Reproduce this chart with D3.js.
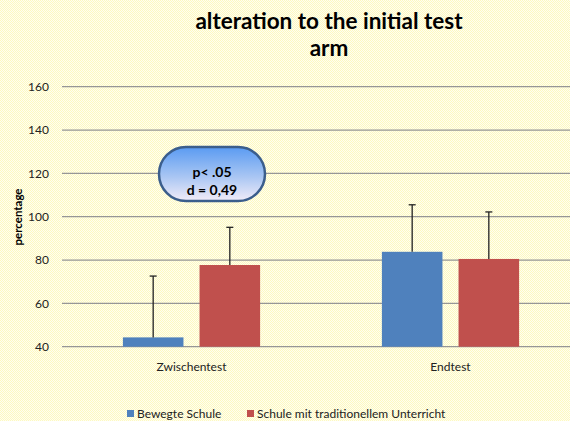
<!DOCTYPE html>
<html>
<head>
<meta charset="utf-8">
<script src="https://cdn.jsdelivr.net/npm/d3@7"></script>
<style>
  body { margin: 0; background: #fff; }
  svg { display: block; font-family: Lato, "Open Sans", sans-serif; }
</style>
</head>
<body>
<svg id="chart" width="570" height="421"></svg>
<script>
// values
var categories = ["Zwischentest", "Endtest"];
var series = ["Bewegte Schule", "Schule mit traditionellem Unterricht"];
var colors = ["#4f81bd", "#c0504d"];
var bewegte = [44.3, 83.8];
var traditionell = [77.7, 80.5];
var bewegteErr = [28.3, 21.7];      // upper error only
var traditionellErr = [17.4, 21.7];
var yTicks = [40, 60, 80, 100, 120, 140, 160];

var svg = d3.select("#chart"),
    width = +svg.attr("width"),
    height = +svg.attr("height");

// pale yellow dotted background
var defs = svg.append("defs");
var pat = defs.append("pattern")
    .attr("id", "dots")
    .attr("width", 2).attr("height", 2)
    .attr("patternUnits", "userSpaceOnUse");
pat.append("rect").attr("width", 2).attr("height", 2).attr("fill", "#fffef0");
pat.append("rect").attr("x", 0).attr("y", 0).attr("width", 1).attr("height", 1).attr("fill", "#fdf9c0");
pat.append("rect").attr("x", 1).attr("y", 1).attr("width", 1).attr("height", 1).attr("fill", "#fdf9c0");

var grad = defs.append("linearGradient")
    .attr("id", "calloutGrad")
    .attr("x1", 0).attr("y1", 0).attr("x2", 0).attr("y2", 1);
grad.append("stop").attr("offset", "0%").attr("stop-color", "#5a9bf2");
grad.append("stop").attr("offset", "55%").attr("stop-color", "#a9c6f3");
grad.append("stop").attr("offset", "100%").attr("stop-color", "#f2ecf8");

svg.append("rect").attr("width", width).attr("height", height).attr("fill", "url(#dots)");

var left = 62, right = 580;
var y = d3.scaleLinear().domain([40, 160]).range([346.7, 86.7]);
var x0 = d3.scaleBand().domain(categories).range([left, right]);
var x1 = d3.scaleBand().domain(series).range([-68.6, 68.6]).paddingInner(0.21);

// gridlines
svg.append("g")
  .selectAll("line")
  .data(yTicks)
  .enter().append("line")
    .attr("x1", left).attr("x2", width)
    .attr("y1", function(d) { return y(d); })
    .attr("y2", function(d) { return y(d); })
    .attr("stroke", "#969696")
    .attr("stroke-width", 1.2);

// y axis labels
var yAxis = svg.append("g")
    .attr("transform", "translate(" + left + ",0)")
    .call(d3.axisLeft(y).tickValues(yTicks).tickSize(0).tickPadding(13));
yAxis.select(".domain").remove();
yAxis.selectAll("text")
    .attr("font-family", "Lato, sans-serif")
    .attr("font-size", 12)
    .attr("fill", "#222");

// x axis labels
svg.append("g")
  .selectAll("text")
  .data(categories)
  .enter().append("text")
    .attr("x", function(d) { return x0(d) + x0.bandwidth() / 2; })
    .attr("y", 371)
    .attr("text-anchor", "middle")
    .attr("font-size", 12)
    .attr("fill", "#222")
    .text(function(d) { return d; });

// bars
var rows = categories.map(function(c, i) {
  return [
    { cat: c, s: series[0], v: bewegte[i], e: bewegteErr[i], col: colors[0] },
    { cat: c, s: series[1], v: traditionell[i], e: traditionellErr[i], col: colors[1] }
  ];
});
var flat = d3.merge(rows);

function cx(d) { return x0(d.cat) + x0.bandwidth() / 2 + x1(d.s); }

svg.append("g")
  .selectAll("rect")
  .data(flat)
  .enter().append("rect")
    .attr("x", function(d) { return cx(d); })
    .attr("y", function(d) { return y(d.v); })
    .attr("width", x1.bandwidth())
    .attr("height", function(d) { return y(40) - y(d.v); })
    .attr("fill", function(d) { return d.col; });

// error bars (plus side only)
var err = svg.append("g").attr("stroke", "#222").attr("stroke-width", 1.3);
flat.forEach(function(d) {
  var mx = cx(d) + x1.bandwidth() / 2;
  err.append("line")
    .attr("x1", mx).attr("x2", mx)
    .attr("y1", y(d.v)).attr("y2", y(d.v + d.e));
  err.append("line")
    .attr("x1", mx - 3.5).attr("x2", mx + 3.5)
    .attr("y1", y(d.v + d.e)).attr("y2", y(d.v + d.e));
});

// callout
var cg = svg.append("g");
cg.append("rect")
    .attr("x", 159).attr("y", 147)
    .attr("width", 106).attr("height", 54)
    .attr("rx", 27).attr("ry", 27)
    .attr("fill", "url(#calloutGrad)")
    .attr("stroke", "#3b5e8c")
    .attr("stroke-width", 2.5);
cg.append("text")
    .attr("x", 212).attr("y", 177)
    .attr("text-anchor", "middle")
    .attr("font-size", 14).attr("font-weight", "bold")
    .text("p< .05");
cg.append("text")
    .attr("x", 212).attr("y", 195)
    .attr("text-anchor", "middle")
    .attr("font-size", 14).attr("font-weight", "bold")
    .text("d = 0,49");

// title
svg.append("text")
    .attr("x", 329).attr("y", 29)
    .attr("text-anchor", "middle")
    .attr("font-size", 22.5).attr("font-weight", "bold")
    .text("alteration to the initial test");
svg.append("text")
    .attr("x", 329).attr("y", 56)
    .attr("text-anchor", "middle")
    .attr("font-size", 22.5).attr("font-weight", "bold")
    .text("arm");

// y title
svg.append("text")
    .attr("transform", "translate(22,217) rotate(-90)")
    .attr("text-anchor", "middle")
    .attr("font-size", 11.5).attr("font-weight", "bold")
    .text("percentage");

// legend
var legend = svg.append("g")
  .selectAll("g")
  .data(series)
  .enter().append("g")
    .attr("transform", function(d, i) { return "translate(" + [127, 247][i] + ",0)"; });
legend.append("rect")
    .attr("y", 410).attr("width", 7).attr("height", 7)
    .attr("fill", function(d, i) { return colors[i]; });
legend.append("text")
    .attr("x", 10).attr("y", 418)
    .attr("font-size", 12)
    .attr("fill", "#222")
    .text(function(d) { return d; });
</script>
</body>
</html>
